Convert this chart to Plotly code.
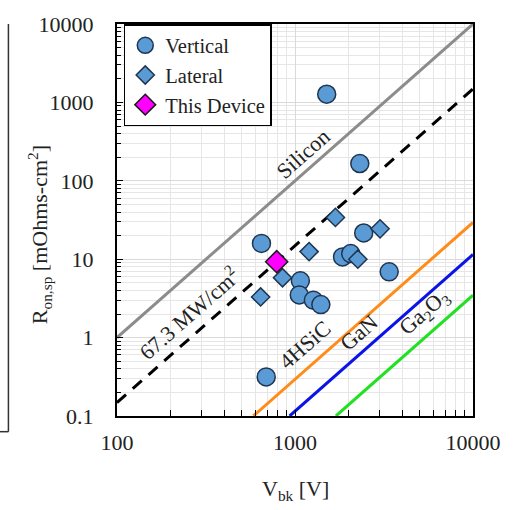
import math
import numpy as np
import plotly.graph_objects as go

# ---- data ----
vert_v = [648, 2432, 1850, 2056, 3382, 1072, 1057, 1268, 1397, 2312, 1507, 689]
vert_r = [15.9, 21.6, 10.7, 11.8, 6.9, 5.3, 3.5, 3.0, 2.64, 166, 1272, 0.315]
lat_v = [1200, 1687, 3006, 2254, 851, 641]
lat_r = [12.5, 34.1, 24.4, 10.0, 5.8, 3.3]
dev_v = [789]
dev_r = [9.3]

# limit lines R = V^2 / k  (mOhm-cm^2)
k_si = 1.0e4
k_fom = 6.73e4
k_sic = 3.4e6
k_gan = 8.7e6
k_ga2o3 = 2.88e7

FONT = "Liberation Serif"
TXT = "#222222"
fill = "#5B9BD5"
edge = "#1F3550"

def line_pts(k):
    vmin = max(100.0, math.sqrt(0.1 * k))
    vs = np.array([vmin, 10000.0])
    return vs, vs ** 2 / k

fig = go.Figure()

for k, col, dash in [(k_si, "#8C8C8C", "solid"), (k_fom, "black", "12px,9px"),
                     (k_sic, "#FF8C1A", "solid"), (k_gan, "#0A14E6", "solid"),
                     (k_ga2o3, "#22E022", "solid")]:
    xs, ys = line_pts(k)
    fig.add_trace(go.Scatter(x=xs, y=ys, mode="lines", showlegend=False,
                             line=dict(color=col, width=3, dash=dash), hoverinfo="skip"))

fig.add_trace(go.Scatter(x=vert_v, y=vert_r, mode="markers", name="Vertical",
                         marker=dict(symbol="circle", size=18, color=fill,
                                     line=dict(color=edge, width=1.5))))
fig.add_trace(go.Scatter(x=lat_v, y=lat_r, mode="markers", name="Lateral",
                         marker=dict(symbol="diamond", size=14, color=fill,
                                     line=dict(color=edge, width=1.5))))
fig.add_trace(go.Scatter(x=dev_v, y=dev_r, mode="markers", name="This Device",
                         marker=dict(symbol="diamond", size=17, color="#FF00FF",
                                     line=dict(color="#1A1A1A", width=1.5))))

grid = "#D9D9D9"
xminor = [v * m for v in (100, 1000) for m in range(2, 10)]
yminor = [v * m for v in (0.1, 1, 10, 100, 1000) for m in range(2, 10)]

fig.update_xaxes(type="log", range=[2, 4], tickvals=[100, 1000, 10000],
                 ticktext=["100", "1000", "10000"], ticks="inside", ticklen=6,
                 tickcolor="black", showline=True, linecolor="black", linewidth=2,
                 mirror=True, showgrid=True, gridcolor=grid, gridwidth=1,
                 minor=dict(tickvals=xminor, ticks="inside", ticklen=6, tickcolor="black",
                            showgrid=True, gridcolor="#E6E6E6", gridwidth=1),
                 tickfont=dict(family=FONT, size=22, color=TXT), zeroline=False,
                 ticklabelstandoff=6)
fig.update_yaxes(type="log", range=[-1, 4], tickvals=[0.1, 1, 10, 100, 1000, 10000],
                 ticktext=["0.1", "1", "10", "100", "1000", "10000"], ticks="inside", ticklen=6,
                 tickcolor="black", showline=True, linecolor="black", linewidth=2,
                 mirror=True, showgrid=True, gridcolor=grid, gridwidth=1,
                 minor=dict(tickvals=yminor, ticks="inside", ticklen=4, tickcolor="black",
                            showgrid=True, gridcolor="#E6E6E6", gridwidth=1),
                 tickfont=dict(family=FONT, size=22, color=TXT), zeroline=False,
                 ticklabelstandoff=17)

ang = -41.4
labels = [("Silicon", 1114, 222), ("67.3 MW/cm<sup>2</sup>", 251, 2.08),
          ("4HSiC", 1143, 0.81), ("GaN", 2285, 1.17), ("Ga<sub>2</sub>O<sub>3</sub>", 5321, 2.08)]
for t, vx, ry in labels:
    fig.add_annotation(x=math.log10(vx), y=math.log10(ry), text=t, showarrow=False,
                       textangle=ang, font=dict(family=FONT, size=22, color=TXT))

# axis titles
fig.add_annotation(xref="paper", yref="paper", x=0.5, y=-0.19, yanchor="middle",
                   text="V<sub>bk</sub> [V]", showarrow=False,
                   font=dict(family=FONT, size=22, color=TXT))
fig.add_annotation(xref="paper", yref="paper", x=-0.217, y=0.463, xanchor="center",
                   yanchor="middle",
                   text="R<sub>on,sp</sub> [mOhms-cm<sup>2</sup>]", showarrow=False, textangle=-90,
                   font=dict(family=FONT, size=22, color=TXT))

# sliver of neighbouring panel at far left
fig.add_shape(type="line", xref="paper", yref="paper", x0=-0.305, x1=-0.305, y0=1.0, y1=-0.04,
              line=dict(color="#333", width=1.5))
fig.add_shape(type="line", xref="paper", yref="paper", x0=-0.33, x1=-0.305, y0=-0.04, y1=-0.04,
              line=dict(color="#333", width=1.5))

fig.update_layout(
    width=513, height=510, autosize=False,
    margin=dict(l=117, r=31, t=14, b=94),
    paper_bgcolor="white", plot_bgcolor="white",
    font=dict(family=FONT, color=TXT),
    legend=dict(x=0.019, y=1.0, xanchor="left", yanchor="top",
                bgcolor="white", bordercolor="black", borderwidth=1.5,
                font=dict(family=FONT, size=20.5, color=TXT),
                itemsizing="trace", tracegroupgap=0, itemwidth=30),
)

fig.write_html("out.html")
